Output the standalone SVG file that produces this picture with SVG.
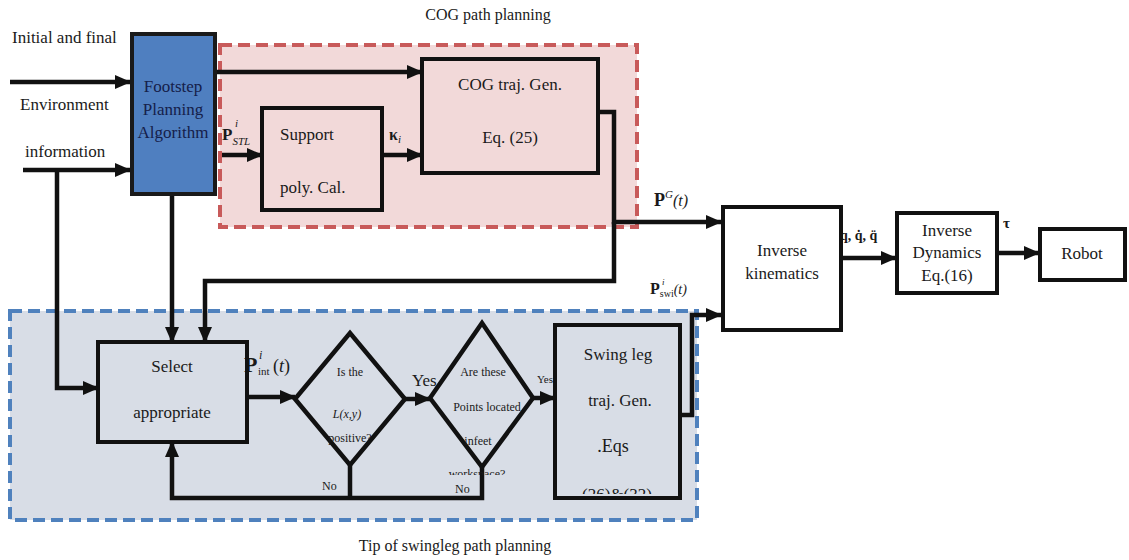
<svg xmlns="http://www.w3.org/2000/svg" width="1129" height="560" viewBox="0 0 1129 560">
<style>
text{font-family:Liberation Serif,DejaVu Serif,Times New Roman,serif;fill:#1a1a1a}
.m{font-size:17px}
.s{font-size:12px}
.box{fill:none;stroke:#111;stroke-width:4}
.ln{fill:none;stroke:#111;stroke-width:4.5;stroke-linejoin:miter}
</style>
<defs>
<marker id="ah" markerUnits="userSpaceOnUse" markerWidth="16" markerHeight="16" viewBox="0 0 16 16" refX="15" refY="8" orient="auto">
<path d="M0,1 L16,8 L0,15 Z" fill="#111"/>
</marker>
<clipPath id="c1"><rect x="430" y="462" width="110" height="13"/></clipPath>
<clipPath id="c2"><rect x="557" y="470" width="121" height="24"/></clipPath>
</defs>
<rect width="1129" height="560" fill="#fff"/>

<g id="cog-region">
<rect x="220" y="45" width="417" height="182" fill="#f2d9d9" stroke="#c85a5a" stroke-width="4" stroke-dasharray="12,6"/>
<text x="488" y="20" font-size="16" text-anchor="middle">COG path planning</text>
</g>
<g id="swing-region">
<rect x="10" y="311" width="687" height="209" fill="#d8dde6" stroke="#4f81bd" stroke-width="4" stroke-dasharray="12,6"/>
<text x="455" y="551" font-size="16" text-anchor="middle">Tip of swingleg path planning</text>
</g>

<g id="inputs">
<text class="m" x="12" y="43">Initial and final</text>
<text class="m" x="20" y="110">Environment</text>
<text class="m" x="25" y="157">information</text>
</g>

<g id="connectors">
<path class="ln" d="M10,82 H130" marker-end="url(#ah)"/>
<path class="ln" d="M23,170 H130" marker-end="url(#ah)"/>
<path class="ln" d="M57,170 V388 H98" marker-end="url(#ah)"/>
<path class="ln" d="M172,195 V342" marker-end="url(#ah)"/>
<path class="ln" d="M217,72 H422" marker-end="url(#ah)"/>
<path class="ln" d="M222,155 H262" marker-end="url(#ah)"/>
<path class="ln" d="M382,155 H422" marker-end="url(#ah)"/>
<path class="ln" d="M598,112 H614 V222 H721" marker-end="url(#ah)"/>
<path class="ln" d="M614,222 V281 H205 V342" marker-end="url(#ah)"/>
<path class="ln" d="M247,397 H295" marker-end="url(#ah)"/>
<path class="ln" d="M405,399 H430" marker-end="url(#ah)"/>
<path class="ln" d="M533,398 H555" marker-end="url(#ah)"/>
<path class="ln" d="M350,465 V498"/>
<path class="ln" d="M482,467 V498 H172 V442" marker-end="url(#ah)"/>
<path class="ln" d="M680,415 H692 V315 H721" marker-end="url(#ah)"/>
<path class="ln" d="M841,258 H896" marker-end="url(#ah)"/>
<path class="ln" d="M997,253 H1039" marker-end="url(#ah)"/>
</g>

<g id="footstep">
<rect x="132" y="34" width="83" height="160" fill="#4f7fc0" stroke="#1a1a1a" stroke-width="4"/>
<text class="m" x="173" y="92" text-anchor="middle" style="fill:#15204a">Footstep</text>
<text class="m" x="173" y="115" text-anchor="middle" style="fill:#15204a">Planning</text>
<text class="m" x="173" y="138" text-anchor="middle" style="fill:#15204a">Algorithm</text>
</g>

<g id="support">
<rect class="box" x="262" y="108" width="120" height="102"/>
<text class="m" x="280" y="140">Support</text>
<text class="m" x="280" y="193">poly. Cal.</text>
</g>

<g id="cog">
<rect class="box" x="422" y="59" width="176" height="114"/>
<text class="m" x="510" y="90" text-anchor="middle">COG traj. Gen.</text>
<text class="m" x="510" y="143" text-anchor="middle">Eq. (25)</text>
</g>

<g id="labels">
<text x="222" y="140" font-size="17" font-weight="bold">P<tspan font-size="11" font-style="italic" font-weight="normal" dy="5">STL</tspan></text>
<text x="235" y="127" font-size="11" font-style="italic">i</text>
<text x="389" y="140" font-size="16" font-weight="bold">κ<tspan font-size="11" font-style="italic" font-weight="normal" dy="3">i</tspan></text>
<text x="654" y="206" font-size="18" font-weight="bold">P<tspan font-size="11" font-weight="normal" font-style="italic" dy="-8">G</tspan><tspan font-size="16" font-weight="normal" font-style="italic" dy="8">(t)</tspan></text>
<text x="650" y="294" font-size="16" font-weight="bold">P<tspan font-size="10" font-weight="normal" dy="3">swi</tspan><tspan font-size="14" font-weight="normal" font-style="italic" dy="-3">(t)</tspan></text>
<text x="662" y="285" font-size="9" font-style="italic">i</text>
<text x="244" y="372" font-size="22" font-weight="bold">P</text>
<text x="259" y="359" font-size="12" font-style="italic">i</text>
<text x="258" y="375" font-size="11">int</text>
<text x="273" y="372" font-size="18">(<tspan font-style="italic">t</tspan>)</text>
<text x="840" y="240" font-size="14" font-weight="bold">q, q̇, q̈</text>
<text x="1003" y="228" font-size="15" font-weight="bold">τ</text>
</g>

<g id="ik">
<rect class="box" x="723" y="207" width="118" height="123"/>
<text class="m" x="782" y="256" text-anchor="middle">Inverse</text>
<text class="m" x="782" y="279" text-anchor="middle">kinematics</text>
</g>

<g id="id">
<rect class="box" x="897" y="213" width="100" height="80"/>
<text class="m" x="947" y="236" text-anchor="middle">Inverse</text>
<text class="m" x="947" y="258" text-anchor="middle">Dynamics</text>
<text class="m" x="947" y="281" text-anchor="middle">Eq.(16)</text>
</g>

<g id="robot">
<rect class="box" x="1040" y="229" width="85" height="51"/>
<text class="m" x="1082" y="259" text-anchor="middle">Robot</text>
</g>

<g id="select">
<rect class="box" x="98" y="342" width="149" height="100"/>
<text class="m" x="172" y="372" text-anchor="middle">Select</text>
<text class="m" x="172" y="418" text-anchor="middle">appropriate</text>
</g>

<g id="decision1">
<polygon points="295,399 350,333 405,399 350,465" fill="none" stroke="#111" stroke-width="4.5"/>
<text class="s" x="350" y="376" text-anchor="middle">Is the</text>
<text class="s" x="347" y="418" text-anchor="middle" font-style="italic">L(x,y)</text>
<text class="s" x="350" y="442" text-anchor="middle">positive?</text>
<text class="m" x="412" y="386">Yes</text>
<text class="s" x="322" y="490">No</text>
</g>

<g id="decision2">
<polygon points="430,398 482,323 533,398 482,467" fill="none" stroke="#111" stroke-width="4.5"/>
<text class="s" x="483" y="376" text-anchor="middle">Are these</text>
<text class="s" x="487" y="411" text-anchor="middle">Points located</text>
<text class="s" x="478" y="445" text-anchor="middle">infeet</text>
<text class="s" x="477" y="478" text-anchor="middle" clip-path="url(#c1)">workspace?</text>
<text x="537" y="383" font-size="11">Yes</text>
<text class="s" x="455" y="493">No</text>
</g>

<g id="swing">
<rect class="box" x="555" y="325" width="125" height="173"/>
<text class="m" x="618" y="360" text-anchor="middle">Swing leg</text>
<text class="m" x="620" y="406" text-anchor="middle">traj. Gen.</text>
<text x="613" y="452" text-anchor="middle" font-size="18">.Eqs</text>
<text class="m" x="617" y="500" text-anchor="middle" clip-path="url(#c2)">(26)&amp;(32)</text>
</g>
</svg>
